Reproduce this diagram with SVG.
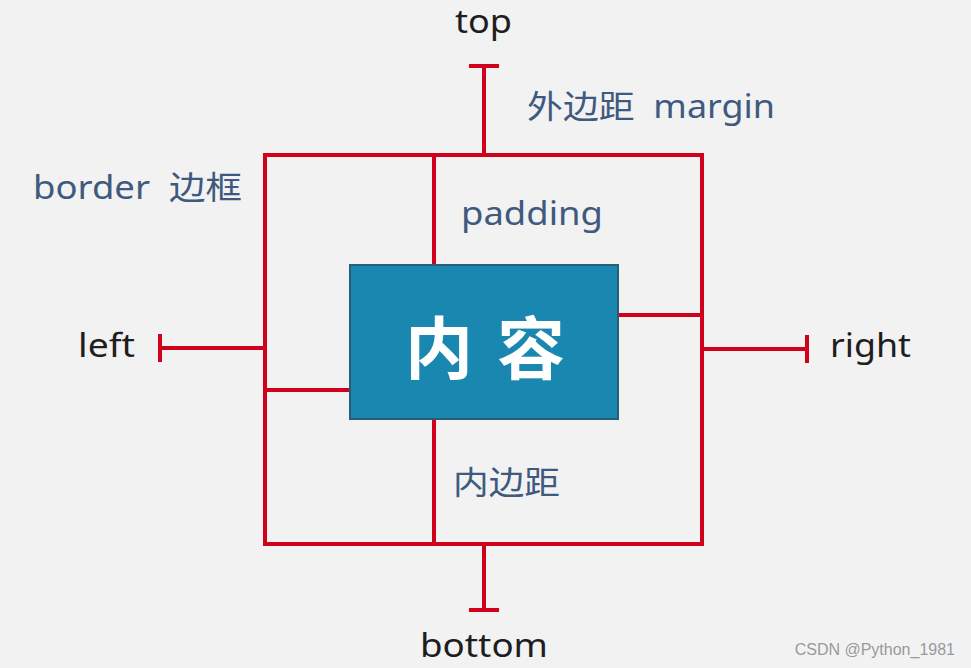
<svg xmlns="http://www.w3.org/2000/svg" width="971" height="668" viewBox="0 0 971 668">
<style>
.ln{stroke:#d0021b;stroke-width:4;fill:none;stroke-linecap:square}
.lbl{font-family:"Noto Sans","Noto Sans CJK SC",sans-serif;font-size:32px;fill:#1e1e1e}
.blu{font-family:"Noto Sans","Noto Sans CJK SC",sans-serif;font-size:32px;fill:#3f5a7e}
</style>
<rect width="971" height="668" fill="#f2f2f2"/>
<g id="connectors">
<rect class="ln" x="265" y="155" width="437" height="389"/>
<path class="ln" d="M484 66V155M471 66H497"/>
<path class="ln" d="M434 155V265"/>
<path class="ln" d="M434 419V544"/>
<path class="ln" d="M618 315H702"/>
<path class="ln" d="M265 390H350"/>
<path class="ln" d="M160 348H265M160 336V360"/>
<path class="ln" d="M702 349H807M807 337V361"/>
<path class="ln" d="M484 544V610M471 610H497"/>
</g>
<g id="content">
<rect x="350" y="265" width="268" height="154" fill="#1a87b1" stroke="#2b5d78" stroke-width="2"/>
<text x="405" y="374" textLength="160" lengthAdjust="spacing" font-family="Noto Sans CJK SC,sans-serif" font-weight="bold" font-size="68" fill="#ffffff">内容</text>
</g>
<g id="labels">
<text class="lbl" x="455" y="33" textLength="57" lengthAdjust="spacingAndGlyphs">top</text>
<text class="lbl" x="78" y="357" textLength="57" lengthAdjust="spacingAndGlyphs">left</text>
<text class="lbl" x="830" y="357" textLength="81" lengthAdjust="spacingAndGlyphs">right</text>
<text class="lbl" x="420" y="657" textLength="128" lengthAdjust="spacingAndGlyphs">bottom</text>
<text class="blu" x="527" y="118" textLength="248" lengthAdjust="spacingAndGlyphs" xml:space="preserve">外边距  margin</text>
<text class="blu" x="33" y="199" textLength="209" lengthAdjust="spacingAndGlyphs" xml:space="preserve">border  边框</text>
<text class="blu" x="461" y="225" textLength="142" lengthAdjust="spacingAndGlyphs">padding</text>
<text class="blu" x="453" y="494" textLength="107" lengthAdjust="spacingAndGlyphs">内边距</text>
</g>
<text x="955" y="655" text-anchor="end" font-family="Liberation Sans,sans-serif" font-size="16" fill="#9a9a9a">CSDN @Python_1981</text>
</svg>
